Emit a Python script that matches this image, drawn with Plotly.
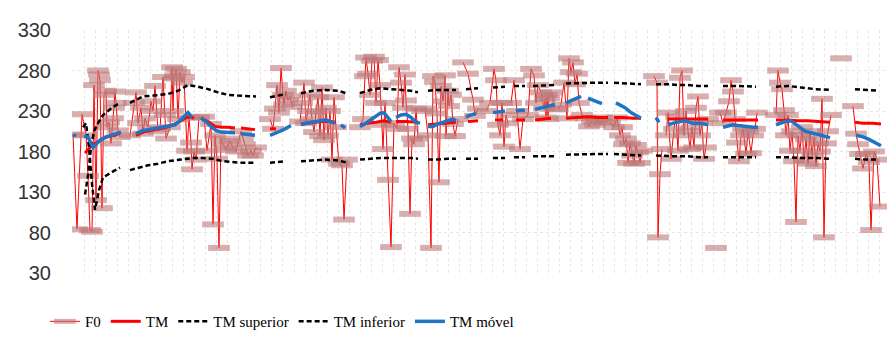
import plotly.graph_objects as go

N = None
# time index (arbitrary units) and F0 values (Hz); None separates segments
F0_T = [65,69,74,78,80,82,84,86,88,90,91,92,94,96,98,99,101,103,105,106,107,108,110,112, N,
        122,126,128,130,133,135,137,140,143,145,147,150,152,155,157,158,162,164,165,166,167,168,170,172,174,176,179,181,183,184,186,188,191,196,199,203,205,207,209,211,213,215,218,222,225,228,233,235,237,240,243,245,248, N,
        262,265,267,269,271,273,275,276,278,280,282,284, N,
        292,294,296,298,300,302,304,306,308,310,312,314,316,318,320,322,324,326,328,331,334,336,339, N,
        352,355,357,358,360,362,364,366,368,370,372,374,375,377,380,383,386,389,391,393,395,397,398,400,402,404,406,408,410, N,
        414,417,420,423,425,427,429,431,433,435,437,438,440,441,443,445,447,450, N,
        455,460,465,467,470, N,
        478,482,486,488,490,492,494,496,498,500, N,
        503,506,509,512,515,520,523,526,528,530,533,536,537,538,539,540,541,544,546, N,
        550,553,556,559,561,563,565,567,569,571,574,578,581,584,587,590,594,598, N,
        602,606,609,612,614,616,618,620,622,624,626,628,630,632,634, N,
        646,649,650,652,654, N,
        658,660,663,666,668,670,672,674,676,678,680,682,684,686,688,690,692,694,696,698,700, N,
        708, N,
        712,715,718,721,723,725,727,729,731,733,735,738,740,743,745,747,749, N,
        768,770,772,774,776,778,780,782,784,786,788,790,792,794,796,798,800,802,804,806,808,810,812,814,816,818,820,823, N,
        833, N,
        845,848,850,852,855,858,861,863,866,869,872]
F0_HZ = [201,84,226,200,150,83,81,262,120,280,275,268,110,250,255,210,216,190,221,234,254,240,206,198, N,
         200,240,253,215,234,202,221,210,242,230,261,205,208,272,225,196,210,284,230,270,274,282,220,278,265,272,181,222,191,158,180,170,222,223,181,214,90,200,171,61,196,189,182,193,185,180,205,196,189,175,181,175,185, N,
         220,208,233,262,228,283,250,238,255,243,248,235, N,
         217,240,265,215,230,250,220,204,228,247,199,259,194,234,200,230,170,247,210,165,163,96,170, N,
         210,220,273,296,276,250,292,297,240,293,262,213,183,240,145,62,215,208,284,265,234,275,243,208,103,196,189,233,196, N,
         230,233,200,61,273,266,227,142,261,242,274,199,255,236,250,214,199,220, N,
         290,276,244,224,233, N,
         230,240,282,268,213,200,240,186,225,215, N,
         240,268,230,183,220,225,282,274,240,262,253,233,245,222,250,220,246,253,233, N,
         232,238,265,221,295,278,290,263,276,240,225,221,211,217,213,219,222,216, N,
         216,210,222,200,210,189,196,166,190,175,165,188,179,166,181, N,
         273,265,74,152,183, N,
         200,228,171,208,223,181,271,280,200,230,205,183,210,185,234,248,200,215,171,185,220, N,
         61, N,
         228,215,228,242,268,254,220,191,168,200,208,177,205,178,200,208,228, N,
         225,280,265,257,231,200,225,181,205,168,93,200,181,210,170,195,165,205,175,198,162,190,180,245,74,190,205,225, N,
         295, N,
         236,202,189,177,159,177,167,83,180,170,112]

TM_T = [77,82,87,92,97,102,107,112, N,
        128,135,142,150,158,165,172,178,182,186, N, 193,200,207,213,220,227, N, 233,240,247, N,
        262,268, N,
        293,300,308,315,322,328, N,
        352,360,368,376,383, N, 388,398,410, N,
        420,428,436,448, N,
        460,470, N,
        487,495, N,
        508,517, N,
        527,535,543, N,
        558,570,580,590,600, N,
        606,615,625,633, N,
        660,670,680,690,700, N,
        715,725,735,750, N,
        768,780,790,800,810,822, N,
        847,855,865,873]
TM_HZ = [178,185,190,194,197,199,200,203, N,
         200,204,206,208,210,213,217,222,223,221, N, 221,217,211,210,210,209, N, 209,208,207, N,
         208,208, N,
         213,215,216,217,217,216, N,
         213,215,216,218,216, N, 217,217,216, N,
         213,214,215,216, N,
         217,218, N,
         219,219, N,
         219,219, N,
         219,220,221, N,
         221,222,223,222,222, N,
         222,222,221,221, N,
         220,220,220,220,220, N,
         219,219,219,219, N,
         219,219,218,218,217,216, N,
         216,215,215,214]

SUP_T = [77,80,83,86,90,95,100,105,112, N,
         122,128,135,145,160,170,180,190,200,210,220,230,240,248, N,
         262,270,278, N,
         293,305,317,330,338, N,
         352,362,372,383,393,403,410, N,
         420,430,440,448, N,
         458,470, N,
         485,497, N,
         506,517, N,
         525,547, N,
         558,575,590,600, N,
         606,620,633, N,
         648,660,670,680,690,700, N,
         715,730,748, N,
         768,780,793,807,822, N,
         847,858,870]
SUP_HZ = [127,150,185,205,215,225,230,235,240, N,
          240,244,248,249,251,255,262,260,257,253,250,249,248,248, N,
          247,249,251, N,
          252,255,256,255,252, N,
          252,256,258,257,256,255,253, N,
          255,256,256,256, N,
          257,258, N,
          259,260, N,
          261,261, N,
          261,262, N,
          264,265,265,265, N,
          265,264,263, N,
          263,263,262,262,261,261, N,
          261,261,260, N,
          260,261,259,257,256, N,
          257,256,255]

INF_T = [75,78,81,84,87,91,95,100,106,112, N,
         122,130,140,150,160,173,185,195,205,215,225,235,248, N,
         262,270,278, N,
         293,305,317,330,340, N,
         352,362,373,383,393,403,410, N,
         420,430,440,448, N,
         458,470, N,
         485,497, N,
         506,517, N,
         525,547, N,
         558,575,590,600, N,
         606,620,633, N,
         648,660,670,680,690,700, N,
         715,730,748, N,
         768,780,793,807,822, N,
         847,858,870]
INF_HZ = [210,215,185,140,108,132,148,152,156,160, N,
          157,160,163,165,168,170,172,172,171,168,167,166,166, N,
          166,167,168, N,
          168,169,170,169,166, N,
          170,171,172,172,172,172,171, N,
          170,170,171,171, N,
          171,171, N,
          172,172, N,
          173,173, N,
          174,174, N,
          176,177,177,177, N,
          177,176,175, N,
          175,174,174,174,173,173, N,
          173,173,173, N,
          173,173,172,172,171, N,
          171,170,170]

MOV_T = [65,68, N, 76,80,85,89,93,98,103,108,113, N,
         128,135,140,148,155,162,167,172,177,180,184, N, 193,198,203,208,213,218,223,227, N, 233,240,247, N,
         262,267,272,277,283, N,
         293,298,303,308,313,318,322,327, N, 333,337, N,
         352,358,365,372,376,380,383, N, 388,393,398,403,408,412, N,
         420,425,430,435,440,445,448, N,
         458,463,468, N,
         485,490,497, N,
         508,512,517, N,
         527,533,540,547, N,
         558,565,573, N,
         580,585,590,594, N,
         608,617,623,633, N,
         648,651, N,
         660,668,677,685,692,700, N,
         715,720,725,730,735,740,745,750, N,
         768,777,783,790,797,807,815,822, N,
         848,855,861,867,873]
MOV_HZ = [201,199, N, 199,198,185,190,195,198,200,201,204, N,
          202,206,207,209,210,212,213,218,224,228,222, N, 221,217,211,206,204,204,204,203, N, 202,201,200, N,
          200,202,205,208,212, N,
          214,215,216,217,218,219,217,215, N, 213,209, N,
          211,215,221,227,228,221,217, N, 222,225,226,222,216,215, N,
          211,211,214,216,219,220,218, N,
          223,225,227, N,
          228,229,230, N,
          230,231,231, N,
          232,234,236,238, N,
          240,244,248, N,
          246,244,241,239, N,
          240,234,228,221, N,
          222,216, N,
          213,216,218,215,215,213, N,
          210,212,213,212,211,211,210,210, N,
          213,217,218,211,205,202,199,197, N,
          200,198,195,191,187]

Y_TICKS = [30, 80, 130, 180, 230, 280, 330]

fig = go.Figure()
fig.add_trace(go.Scatter(
    x=F0_T, y=F0_HZ, name="F0", mode="lines+markers",
    line=dict(color="#ff0000", width=1),
    marker=dict(symbol="line-ew", size=15.5, color="rgba(190,120,120,0.6)",
                line=dict(width=6, color="rgba(190,120,120,0.6)")),
))
fig.add_trace(go.Scatter(x=TM_T, y=TM_HZ, name="TM", mode="lines",
                         line=dict(color="#ff0000", width=3)))
fig.add_trace(go.Scatter(x=SUP_T, y=SUP_HZ, name="TM superior", mode="lines",
                         line=dict(color="#000000", width=2.5, dash="5px,3px")))
fig.add_trace(go.Scatter(x=INF_T, y=INF_HZ, name="TM inferior", mode="lines",
                         line=dict(color="#000000", width=2.5, dash="5px,3px")))
fig.add_trace(go.Scatter(x=MOV_T, y=MOV_HZ, name="TM móvel", mode="lines",
                         line=dict(color="#1f74c4", width=3.5)))

fig.update_layout(
    width=895, height=340,
    margin=dict(l=64, r=10, t=22, b=54),
    plot_bgcolor="white", paper_bgcolor="white",
    legend=dict(orientation="h", x=-0.033, xanchor="left", y=-0.2, yanchor="middle",
                font=dict(family="Liberation Serif, Times New Roman, serif", size=15, color="#000000"),
                bgcolor="rgba(0,0,0,0)"),
)
fig.update_xaxes(range=[64, 885], tick0=65, dtick=11.05, showgrid=True,
                 gridcolor="#e6e6e6", griddash="dot", gridwidth=1,
                 showticklabels=False, zeroline=False, showline=False, ticks="")
fig.update_yaxes(range=[30, 330], tickvals=Y_TICKS, showgrid=True,
                 gridcolor="#e6e6e6", griddash="dot", gridwidth=1,
                 zeroline=False, showline=False, ticks="",
                 tickfont=dict(family="Liberation Sans", size=20, color="#333333"),
                 ticklabelstandoff=20)

fig.write_html("out.html")
